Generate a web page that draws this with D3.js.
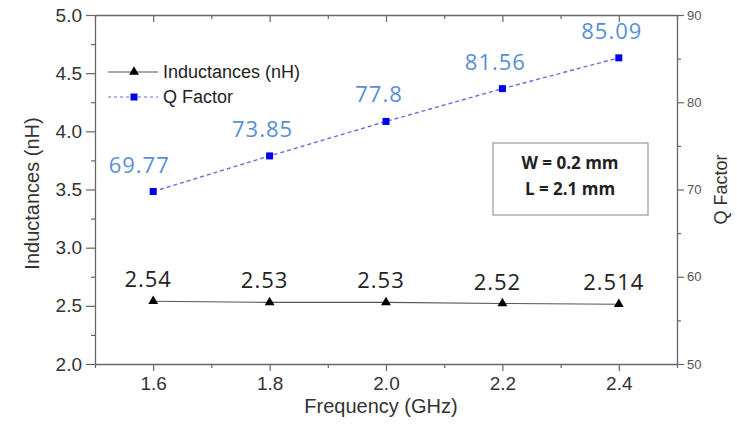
<!DOCTYPE html>
<html>
<head>
<meta charset="utf-8">
<script src="https://cdn.jsdelivr.net/npm/d3@7/dist/d3.min.js"></script>
<style>
  body { margin: 0; background: #fff; }
  svg { display: block; }
</style>
</head>
<body>
<svg id="chart" width="737" height="427"></svg>
<script>
// ---- data ----
const frequencies = [1.6, 1.8, 2.0, 2.2, 2.4];
const inductances = [2.54, 2.53, 2.53, 2.52, 2.514];
const inductanceLabels = ["2.54", "2.53", "2.53", "2.52", "2.514"];
const qFactors = [69.77, 73.85, 77.8, 81.56, 85.09];
const qLabels = ["69.77", "73.85", "77.8", "81.56", "85.09"];
const xTicks = [1.6, 1.8, 2.0, 2.2, 2.4];
const xMinorTicks = [1.5, 1.7, 1.9, 2.1, 2.3, 2.5];
const leftTicks = [2.0, 2.5, 3.0, 3.5, 4.0, 4.5, 5.0];
const leftMinorTicks = [2.25, 2.75, 3.25, 3.75, 4.25, 4.75];
const rightTicks = [50, 60, 70, 80, 90];
const rightMinorTicks = [55, 65, 75, 85];
const legendNames = ["Inductances (nH)", "Q Factor"];
const noteLines = ["W = 0.2 mm", "L = 2.1 mm"];

// ---- layout ----
const svg = d3.select("#chart");
const L = 95, R = 677, T = 15, B = 364;
const x = d3.scaleLinear().domain([1.5, 2.5]).range([L, R]);
const yL = d3.scaleLinear().domain([2.0, 5.0]).range([B, T]);
const yR = d3.scaleLinear().domain([50, 90]).range([B, T]);
const axisColor = "#666";
const axisFont = "'Liberation Sans', Arial, sans-serif";
const labelFont = "'Open Sans', sans-serif";

function styleAxis(g, fs, col) {
  g.selectAll("path.domain").attr("stroke", axisColor).attr("stroke-width", 1.3);
  g.selectAll(".tick line").attr("stroke", axisColor).attr("stroke-width", 1.2);
  g.selectAll(".tick text").attr("font-family", axisFont).attr("font-size", fs).attr("fill", col);
}

// bottom axis (major + minor)
const gx = svg.append("g").attr("transform", `translate(0,${B})`)
  .call(d3.axisBottom(x).tickValues(xTicks).tickFormat(d3.format(".1f")).tickSizeInner(7).tickSizeOuter(0).tickPadding(6));
styleAxis(gx, 19, "#333");
svg.append("g").attr("transform", `translate(0,${B})`)
  .call(d3.axisBottom(x).tickValues(xMinorTicks).tickFormat("").tickSizeInner(4).tickSizeOuter(0))
  .call(g => styleAxis(g, 10, "#333")).select("path.domain").remove();
// top axis (inward ticks)
const gt = svg.append("g").attr("transform", `translate(0,${T})`)
  .call(d3.axisTop(x).tickValues(xTicks).tickFormat("").tickSizeInner(-7).tickSizeOuter(0));
styleAxis(gt, 10, "#333");
svg.append("g").attr("transform", `translate(0,${T})`)
  .call(d3.axisTop(x).tickValues(xMinorTicks).tickFormat("").tickSizeInner(-4).tickSizeOuter(0))
  .call(g => styleAxis(g, 10, "#333")).select("path.domain").remove();

// left axis
const gl = svg.append("g").attr("transform", `translate(${L},0)`)
  .call(d3.axisLeft(yL).tickValues(leftTicks).tickFormat(d3.format(".1f")).tickSizeInner(9).tickSizeOuter(0).tickPadding(4));
styleAxis(gl, 19, "#333");
svg.append("g").attr("transform", `translate(${L},0)`)
  .call(d3.axisLeft(yL).tickValues(leftMinorTicks).tickFormat("").tickSizeInner(4).tickSizeOuter(0))
  .call(g => styleAxis(g, 10, "#333")).select("path.domain").remove();

// right axis
const gr = svg.append("g").attr("transform", `translate(${R},0)`)
  .call(d3.axisRight(yR).tickValues(rightTicks).tickFormat(d3.format("d")).tickSizeInner(7).tickSizeOuter(0).tickPadding(3));
styleAxis(gr, 13, "#555");
svg.append("g").attr("transform", `translate(${R},0)`)
  .call(d3.axisRight(yR).tickValues(rightMinorTicks).tickFormat("").tickSizeInner(4).tickSizeOuter(0))
  .call(g => styleAxis(g, 10, "#555")).select("path.domain").remove();

// axis titles
svg.append("text").attr("transform", `translate(39,${(T + B) / 2 + 4}) rotate(-90)`)
  .attr("text-anchor", "middle").attr("font-family", axisFont).attr("font-size", 20).attr("fill", "#333")
  .text("Inductances (nH)");
svg.append("text").attr("transform", `translate(727,${(T + B) / 2}) rotate(-90)`)
  .attr("text-anchor", "middle").attr("font-family", axisFont).attr("font-size", 18).attr("fill", "#333")
  .text("Q Factor");
svg.append("text").attr("x", (L + R) / 2 - 5).attr("y", 413)
  .attr("text-anchor", "middle").attr("font-family", axisFont).attr("font-size", 20).attr("fill", "#333")
  .text("Frequency (GHz)");

// ---- series ----
const indData = frequencies.map((f, i) => ({ f, v: inductances[i], label: inductanceLabels[i] }));
const qData = frequencies.map((f, i) => ({ f, v: qFactors[i], label: qLabels[i] }));

svg.append("path").datum(indData)
  .attr("fill", "none").attr("stroke", "#555").attr("stroke-width", 1.1)
  .attr("d", d3.line().x(d => x(d.f)).y(d => yL(d.v)));
const tri = d3.symbol().type(d3.symbolTriangle).size(42);
svg.selectAll(".tri").data(indData).join("path")
  .attr("transform", d => `translate(${x(d.f)},${yL(d.v)})`)
  .attr("d", tri).attr("fill", "#000");

svg.append("path").datum(qData)
  .attr("fill", "none").attr("stroke", "#6b6bdc").attr("stroke-width", 1.4).attr("stroke-dasharray", "4,3")
  .attr("d", d3.line().x(d => x(d.f)).y(d => yR(d.v)));
svg.selectAll(".sq").data(qData).join("rect")
  .attr("x", d => x(d.f) - 3.5).attr("y", d => yR(d.v) - 3.5)
  .attr("width", 7).attr("height", 7).attr("fill", "#0000f0");

// data labels
svg.selectAll(".ql").data(qData).join("text")
  .attr("x", (d, i) => x(d.f) - (i === 0 ? 14 : 7)).attr("y", d => yR(d.v) - 19)
  .attr("text-anchor", "middle").attr("font-family", labelFont).attr("font-size", 22)
  .attr("letter-spacing", 1).attr("fill", "#5a8ed4").text(d => d.label);
svg.selectAll(".il").data(indData).join("text")
  .attr("x", d => x(d.f) - 5).attr("y", d => yL(d.v) - 14)
  .attr("text-anchor", "middle").attr("font-family", labelFont).attr("font-size", 22)
  .attr("letter-spacing", 1).attr("fill", "#222").text(d => d.label);

// legend
const lg = svg.append("g");
const legendRows = [
  { name: legendNames[0], y: 72, stroke: "#555", dash: null, marker: "tri" },
  { name: legendNames[1], y: 97, stroke: "#6b6bdc", dash: "3,3", marker: "sq" }
];
legendRows.forEach(r => {
  lg.append("line").attr("x1", 108).attr("x2", 158).attr("y1", r.y).attr("y2", r.y)
    .attr("stroke", r.stroke).attr("stroke-width", 1.2).attr("stroke-dasharray", r.dash);
  if (r.marker === "tri") {
    lg.append("path").attr("transform", `translate(134,${r.y})`).attr("d", tri).attr("fill", "#000");
  } else {
    lg.append("rect").attr("x", 130.5).attr("y", r.y - 3.5).attr("width", 7).attr("height", 7).attr("fill", "#0000f0");
  }
  lg.append("text").attr("x", 163).attr("y", r.y + 6).attr("font-family", axisFont).attr("font-size", 18)
    .attr("fill", "#222").text(r.name);
});

// annotation box
svg.append("rect").attr("x", 493).attr("y", 143).attr("width", 155).attr("height", 72)
  .attr("fill", "#fff").attr("stroke", "#999").attr("stroke-width", 1.2);
noteLines.forEach((t, i) => {
  svg.append("text").attr("x", 570).attr("y", 169 + i * 26).attr("text-anchor", "middle")
    .attr("font-family", labelFont).attr("font-weight", "bold").attr("font-size", 17)
    .attr("fill", "#222").text(t);
});
</script>
</body>
</html>
